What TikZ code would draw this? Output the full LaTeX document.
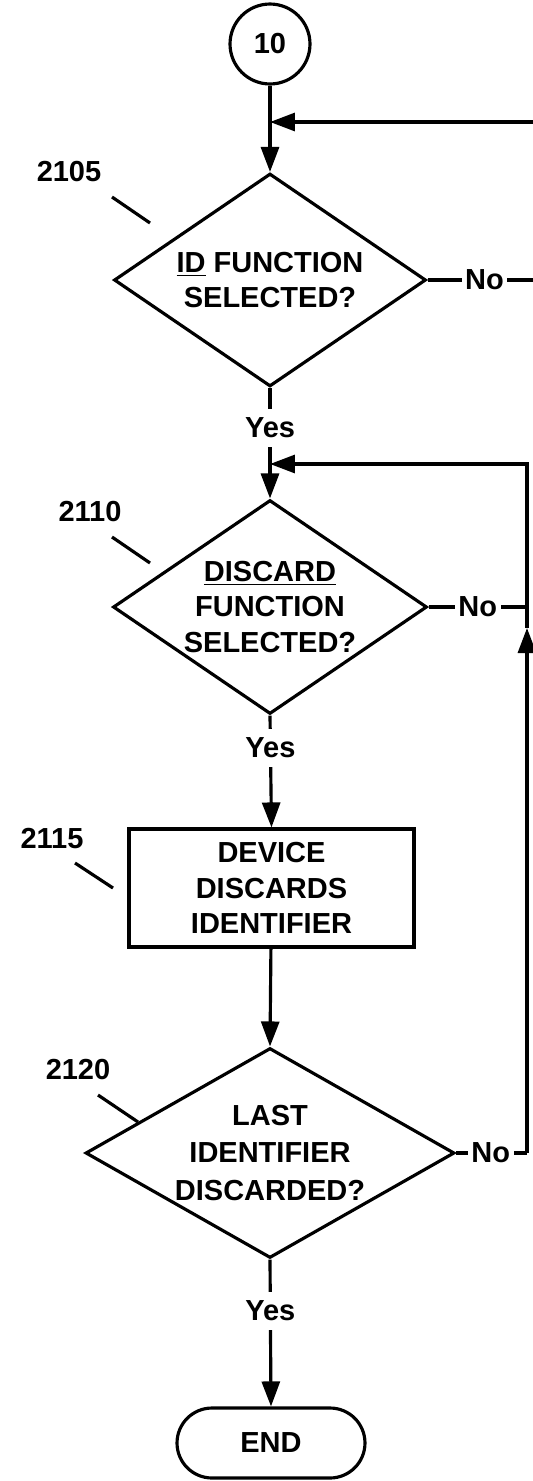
\documentclass[tikz,border=0pt]{standalone}
\usepackage{fontspec}
\setmainfont{Liberation Sans}
\usepackage{tikz}
\usetikzlibrary{arrows.meta,calc,positioning,shapes.geometric,shapes.misc}
\tikzset{
    myline/.style={line width=1.8pt,draw=black},
    myarrow/.style={myline,-{Triangle[length=0.5cm,width=0.36cm]}},
    mydecision/.style={diamond,draw=black,line width=1.8pt,inner sep=0pt,align=center},
    myprocess/.style={rectangle,draw=black,line width=1.8pt,inner sep=0pt,align=center},
    myterm/.style={rounded rectangle,draw=black,line width=1.8pt,inner sep=0pt},
    myconn/.style={circle,draw=black,line width=1.8pt,inner sep=0pt,minimum size=1.6cm},
    mylabel/.style={fill=white,inner xsep=2pt,inner ysep=5pt},
    myref/.style={inner sep=0pt},
    every node/.style={font=\fontsize{16.5}{20}\selectfont\bfseries}
}

\begin{document}
\begin{tikzpicture}[x=0.02cm,y=-0.02cm]
    \useasboundingbox (0,0) rectangle (533,1481);

    % 节点
    \node[myconn] (c10) at (270,44) {10};
    \node[mydecision,aspect=1.46,minimum width=6.24cm,minimum height=4.26cm] (d1) at (270,280)
        {\underline{ID} FUNCTION\\SELECTED?};
    \node[mydecision,aspect=1.47,minimum width=6.28cm,minimum height=4.28cm,
          inner sep=-4pt] (d2) at (270,607)
        {\underline{DISCARD}\\FUNCTION\\SELECTED?};
    \node[myprocess,minimum width=5.70cm,minimum height=2.36cm] (p1) at (271.5,888)
        {DEVICE\\DISCARDS\\IDENTIFIER};
    \node[mydecision,aspect=1.75,minimum width=7.38cm,minimum height=4.2cm,inner sep=-8pt,
          font=\fontsize{16.5}{21.5}\selectfont\bfseries] (d3) at (270,1153)
        {LAST\\IDENTIFIER\\DISCARDED?};
    \node[myterm,minimum width=3.76cm,minimum height=1.40cm] (e1) at (271,1443) {END};

    % 参考编号
    \node[myref] (n2105) at (69,172) {2105};
    \node[myref] (n2110) at (90,512) {2110};
    \node[myref] (n2115) at (52,839) {2115};
    \node[myref] (n2120) at (78,1070) {2120};
    \draw[myline] (112,197) -- (150,223);
    \draw[myline] (112,537) -- (150,563);
    \draw[myline] (75,863) -- (113,888);
    \draw[myline] (98,1095) -- (138,1122);

    % 回路坐标
    \coordinate (r1) at (533,122);
    \coordinate (r2) at (533,280);
    \coordinate (rt) at (527,464);
    \coordinate (rm) at (527,607);
    \coordinate (ra) at (527,628);
    \coordinate (rb) at (527,1153);

    % 主流程
    \draw[myarrow] (c10) -- (d1.north);
    \draw[myarrow] (r1) -- (r1 -| c10);
    \draw[myline] (d1.east) -- node[mylabel,pos=0.54] (no1) {No} (r2);
    \draw[myarrow] (d1.south) -- node[mylabel,pos=0.36] (yes1) {Yes} (d2.north);
    \draw[myline] (d2.east) -- node[mylabel,pos=0.5] (no2) {No} (rm);
    \draw[myarrow] (d2.south) -- node[mylabel,pos=0.29] (yes2) {Yes} (p1.north);
    \draw[myarrow] (p1) -- (d3.north);
    \draw[myline] (d3.east) -- node[mylabel,pos=0.49] (no3) {No} (rb);
    \draw[myarrow] (rb) -- (ra);
    \draw[myarrow] (ra) -- (rt) -- (rt -| d2.north);
    \draw[myarrow] (d3.south) -- node[mylabel,pos=0.35] (yes3) {Yes} (e1.north);
\end{tikzpicture}
\end{document}
